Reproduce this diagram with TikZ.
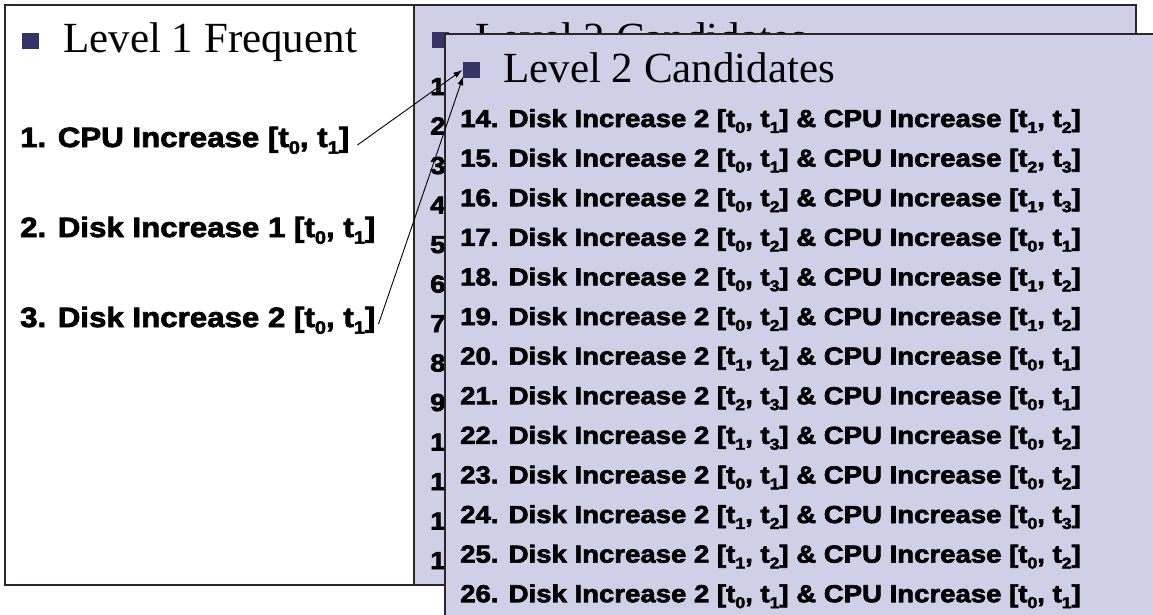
\documentclass[tikz,border=0pt]{standalone}
\usepackage{fontspec}
\setmainfont{Liberation Serif}
\newfontfamily\heavyfont{Liberation Sans}[FakeStretch=1.12, BoldFeatures={FakeBold=2.6}]
\usetikzlibrary{arrows.meta}
\definecolor{slidefill}{RGB}{207,207,231}
\definecolor{bulletnavy}{RGB}{51,51,102}
\definecolor{rimcol}{RGB}{45,38,38}
% lowered small index for time stamps
\newcommand\sbs[1]{\raisebox{-0.24em}{\scalebox{0.64}{#1}}}
\newcommand\ival[2]{[t\sbs{#1}, t\sbs{#2}]}
\begin{document}
\begin{tikzpicture}[x=1pt,y=-1pt,
  heading/.style={font=\fontsize{43}{50}\selectfont, anchor=base west, inner sep=0pt},
  bodytext/.style={font=\heavyfont\bfseries\fontsize{24.6}{28}\selectfont, anchor=base west, inner sep=0pt},
  lefttext/.style={font=\heavyfont\bfseries\fontsize{27.9}{34}\selectfont, anchor=base west, inner sep=0pt},
  bulletsq/.style={fill=bulletnavy, minimum width=17pt, minimum height=16pt, inner sep=0pt},
  link/.style={draw=black, line width=0.9pt, -{Latex[length=9pt,width=6pt]}}]
\useasboundingbox (0,0) rectangle (1153,614);

% first slide: frequent items of level 1
\draw[rimcol, line width=2pt, fill=white] (5,5) rectangle (415,585);
\node[bulletsq] (lb) at (30.5,41) {};
\node[heading] (lhead) at (63,52) {Level 1 Frequent};
\node[lefttext] (l1) at (20,147) {1. CPU Increase \ival{0}{1}};
\node[lefttext] (l2) at (20,237) {2. Disk Increase 1 \ival{0}{1}};
\node[lefttext] (l3) at (20,327) {3. Disk Increase 2 \ival{0}{1}};

% second slide, lying underneath
\draw[rimcol, line width=2pt, fill=slidefill] (414,5) rectangle (1136,585);
\node[bulletsq] (bb) at (440.5,40) {};
\node[heading] (bhead) at (475,52) {Level 2 Candidates};
\foreach \k in {1,...,13}
  \node[bodytext] (bn\k) at (430,{95+39.5*(\k-1)}) {\k};

% third slide, on top
\draw[rimcol, line width=1.5pt, fill=slidefill] (445,34) rectangle (1165,630);
\node[bulletsq] (fb) at (471,70) {};
\node[heading] (fhead) at (503,82) {Level 2 Candidates};
\foreach \n/\a/\b/\c/\d [count=\i from 0] in
  {14/0/1/1/2, 15/0/1/2/3, 16/0/2/1/3, 17/0/2/0/1, 18/0/3/1/2,
   19/0/2/1/2, 20/1/2/0/1, 21/2/3/0/1, 22/1/3/0/2, 23/0/1/0/2,
   24/1/2/0/3, 25/1/2/0/2, 26/0/1/0/1}
  \node[bodytext] (r\n) at (460,{127+39.6*\i})
    {\n. Disk Increase 2 \ival{\a}{\b} \& CPU Increase \ival{\c}{\d}};

% links from the frequent items to the candidates
\draw[link] ([shift={(8pt,2pt)}]l1.base east) -- (fb.west);
\draw[link] ([shift={(3pt,3pt)}]l3.base east) -- ([shift={(1pt,2pt)}]fb.south west);
\end{tikzpicture}
\end{document}
